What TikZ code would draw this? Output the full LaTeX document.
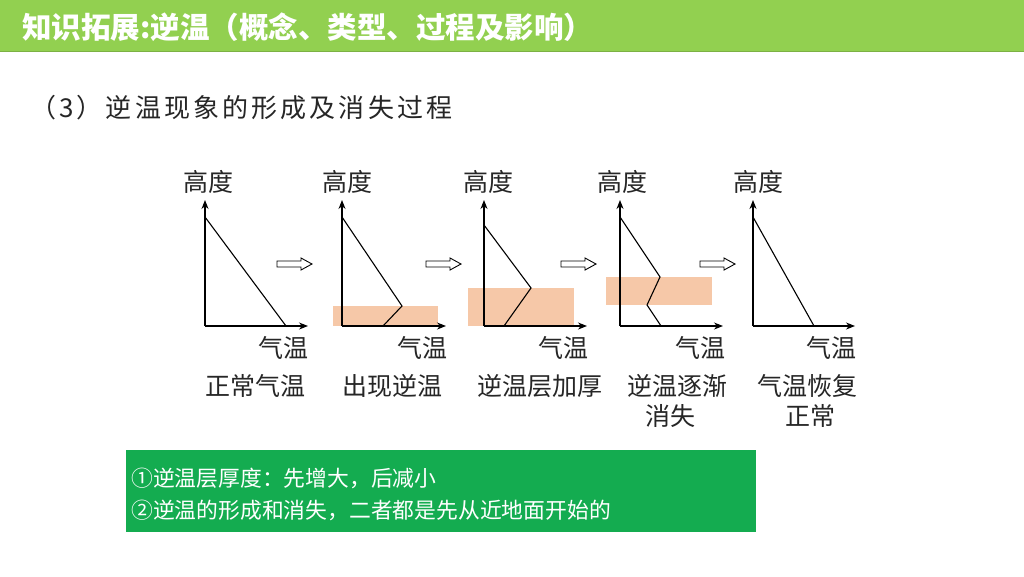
\documentclass[tikz,border=0pt]{standalone}
\usepackage{fontspec}
\usetikzlibrary{arrows.meta}
\newfontfamily\cjk{Noto Sans CJK SC}
\definecolor{titlegreen}{HTML}{92D050}
\definecolor{boxgreen}{HTML}{14AC50}
\definecolor{peach}{HTML}{F6C8A8}
\tikzset{
  ax/.style={line width=1.2pt,-{Stealth[length=9pt,width=7pt]}},
  tline/.style={line width=1.1pt,line join=miter},
  invlayer/.style={fill=peach,draw=none},
  lab/.style={font=\cjk\fontsize{25}{29}\selectfont,inner sep=0pt,text=black!85},
  harrow/.style={line width=0.9pt,fill=white,draw=black},
}
\begin{document}
\begin{tikzpicture}[x=1pt,y=-1pt]
\useasboundingbox (0,0) rectangle (1024,576);
\fill[white] (0,0) rectangle (1024,576);
% title bar
\fill[titlegreen] (0,0) rectangle (1024,51);
\draw[titlegreen!85!black,line width=1pt] (0,51) -- (1024,51);
\node[anchor=west,inner sep=0pt,text=white,font=\cjk\bfseries\fontsize{29.5}{33}\selectfont] (title) at (22,27) {知识拓展:逆温（概念、类型、过程及影响）};
% subtitle
\node[anchor=west,inner sep=0pt,text=black!85,font=\cjk\fontsize{26}{30}\selectfont\addfontfeatures{LetterSpace=12}] (sub) at (30,108) {（3）逆温现象的形成及消失过程};

% ---------- graph 1
\coordinate (o1) at (205,326); \coordinate (y1) at (205,200); \coordinate (x1) at (308,326);
\coordinate (a1) at (205,217); \coordinate (b1) at (286,326);
\draw[ax] (o1) -- (y1); \draw[ax] (o1) -- (x1);
\draw[tline] (a1) -- (b1);
\node[lab] (h1) at (208,182) {高度};
\node[lab] (t1) at (283,348) {气温};
\node[lab] (c1) at (255,386) {正常气温};
\draw[harrow] (277,261) -- (301,261) -- (301,258) -- (312,264) -- (301,270) -- (301,267) -- (277,267) -- cycle;

% ---------- graph 2
\coordinate (o2) at (342,326); \coordinate (y2) at (342,200); \coordinate (x2) at (446,326);
\fill[invlayer] (333,306) rectangle (438,326);
\coordinate (a2) at (342,217); \coordinate (b2) at (402,306); \coordinate (d2) at (383,326);
\draw[ax] (o2) -- (y2); \draw[ax] (o2) -- (x2);
\draw[tline] (a2) -- (b2) -- (d2);
\node[lab] (h2) at (347,182) {高度};
\node[lab] (t2) at (422,348) {气温};
\node[lab] (c2) at (392,386) {出现逆温};
\draw[harrow] (426,261) -- (450,261) -- (450,258) -- (461,264) -- (450,270) -- (450,267) -- (426,267) -- cycle;

% ---------- graph 3
\coordinate (o3) at (484,326); \coordinate (y3) at (484,200); \coordinate (x3) at (587,326);
\fill[invlayer] (468,288) rectangle (574,326);
\coordinate (a3) at (484,225); \coordinate (b3) at (531,288); \coordinate (d3) at (504,326);
\draw[ax] (o3) -- (y3); \draw[ax] (o3) -- (x3);
\draw[tline] (a3) -- (b3) -- (d3);
\node[lab] (h3) at (488,182) {高度};
\node[lab] (t3) at (563,348) {气温};
\node[lab] (c3) at (540,386) {逆温层加厚};
\draw[harrow] (561,261) -- (585,261) -- (585,258) -- (596,264) -- (585,270) -- (585,267) -- (561,267) -- cycle;

% ---------- graph 4
\coordinate (o4) at (620,326); \coordinate (y4) at (620,200); \coordinate (x4) at (723,326);
\fill[invlayer] (606,277) rectangle (712,305);
\coordinate (a4) at (620,217); \coordinate (b4) at (660,277); \coordinate (d4) at (647,305); \coordinate (e4) at (661,326);
\draw[ax] (o4) -- (y4); \draw[ax] (o4) -- (x4);
\draw[tline] (a4) -- (b4) -- (d4) -- (e4);
\node[lab] (h4) at (622,182) {高度};
\node[lab] (t4) at (700,348) {气温};
\node[lab] (c4) at (677,386) {逆温逐渐};
\node[lab] (c4b) at (670,416) {消失};
\draw[harrow] (700,261) -- (724,261) -- (724,258) -- (735,264) -- (724,270) -- (724,267) -- (700,267) -- cycle;

% ---------- graph 5
\coordinate (o5) at (753,326); \coordinate (y5) at (753,200); \coordinate (x5) at (855,326);
\coordinate (a5) at (753,217); \coordinate (b5) at (814,326);
\draw[ax] (o5) -- (y5); \draw[ax] (o5) -- (x5);
\draw[tline] (a5) -- (b5);
\node[lab] (h5) at (758,182) {高度};
\node[lab] (t5) at (831,348) {气温};
\node[lab] (c5) at (807,386) {气温恢复};
\node[lab] (c5b) at (810,416) {正常};

% ---------- summary box
\fill[boxgreen] (126,450) rectangle (756,532);
\node[anchor=west,inner sep=0pt,text=white,font=\cjk\fontsize{21.8}{26}\selectfont] (s1) at (131,478) {①逆温层厚度：先增大，后减小};
\node[anchor=west,inner sep=0pt,text=white,font=\cjk\fontsize{21.8}{26}\selectfont] (s2) at (131,510) {②逆温的形成和消失，二者都是先从近地面开始的};
\end{tikzpicture}
\end{document}
